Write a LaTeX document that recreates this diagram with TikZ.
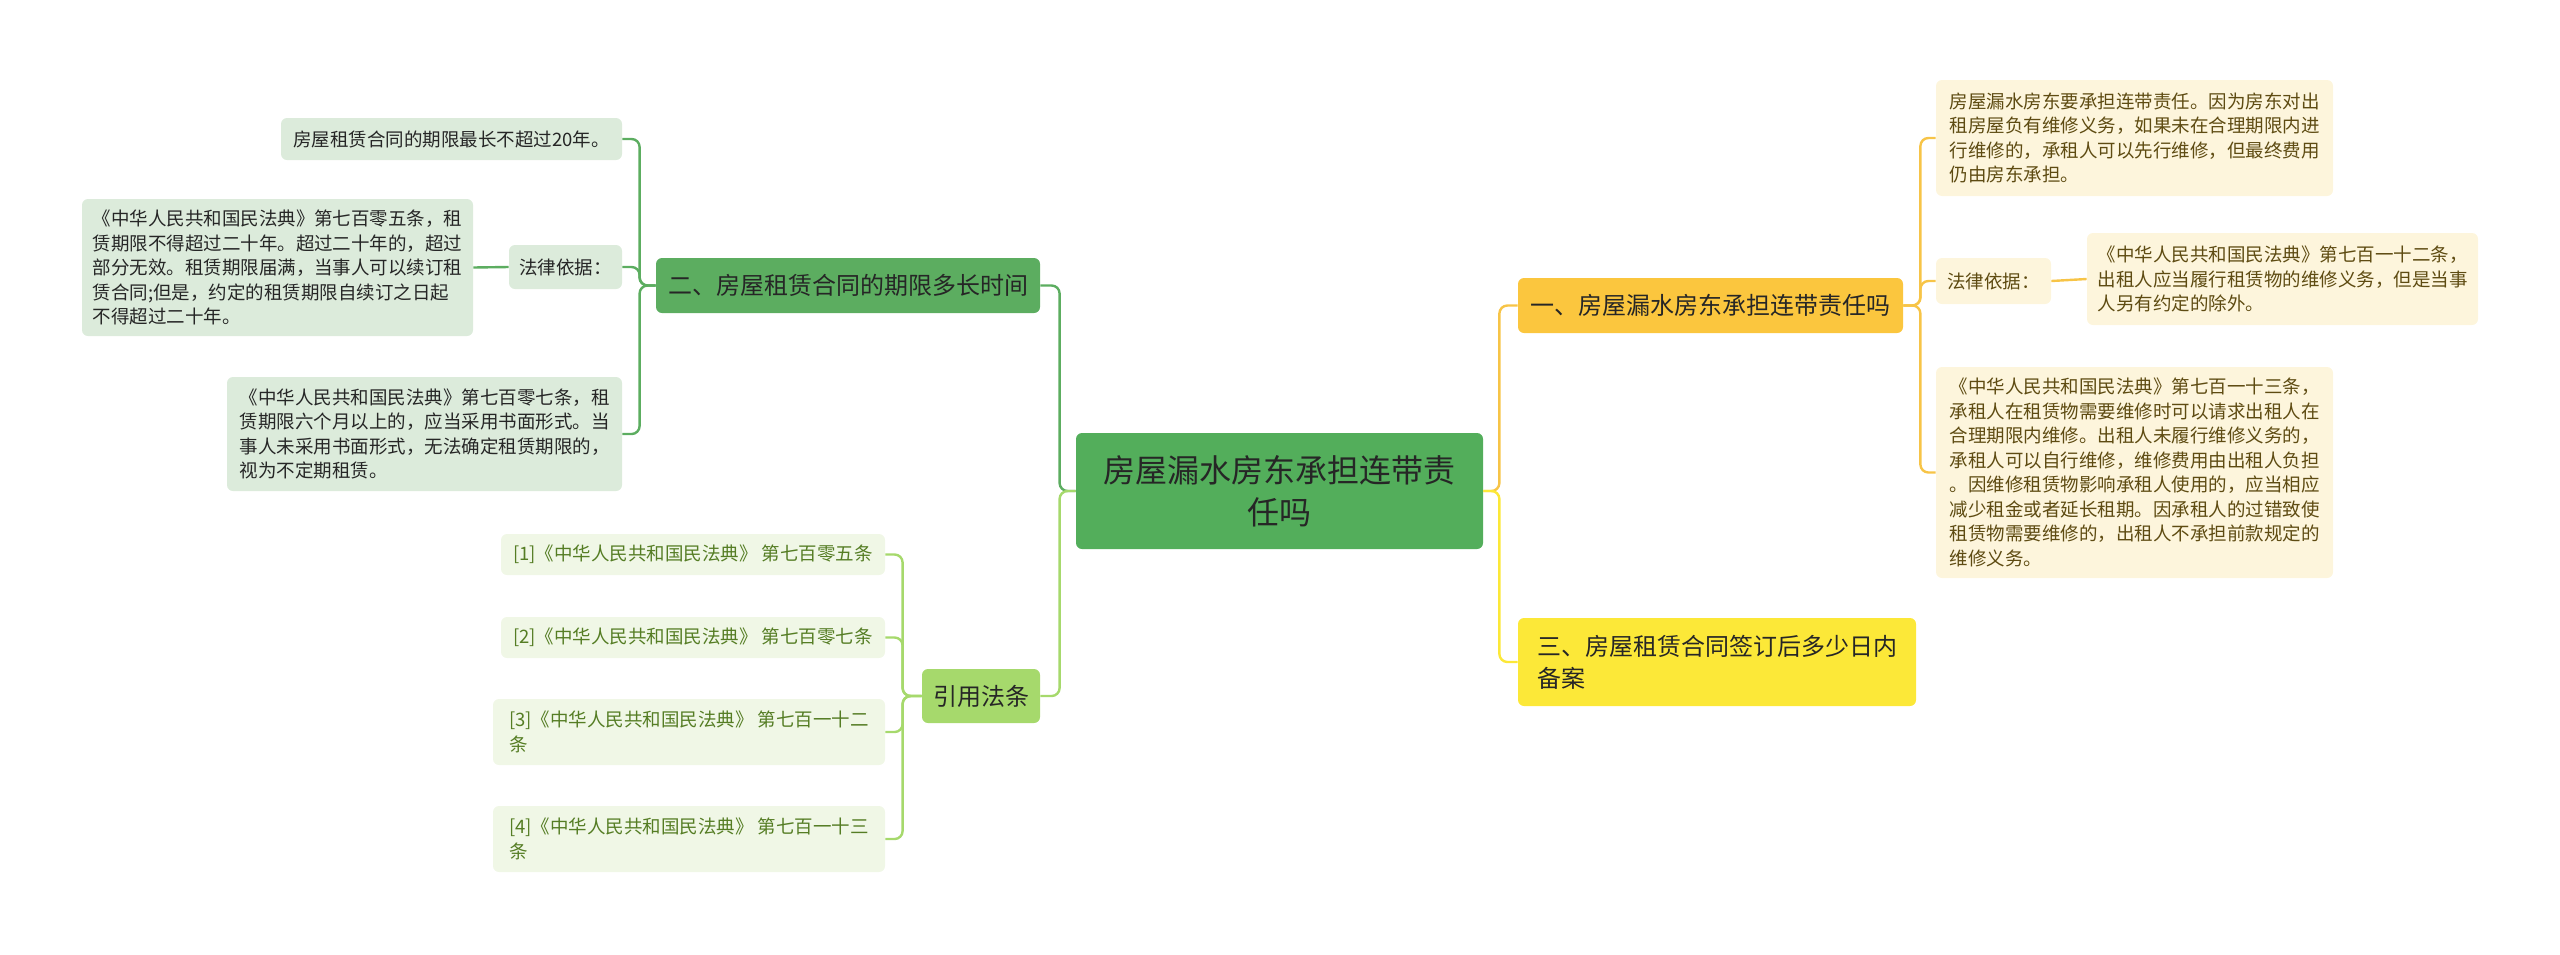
\documentclass[tikz,border=0pt]{standalone}
\usepackage{fontspec}
\setmainfont{Noto Sans CJK SC}

\definecolor{rootgreen}{HTML}{53AE5B}
\definecolor{maingreen}{HTML}{5CAD60}
\definecolor{leafgreen}{HTML}{DCEBDB}
\definecolor{limegreen}{HTML}{A6D96C}
\definecolor{citefill}{HTML}{F0F7E6}
\definecolor{citetext}{HTML}{557D24}
\definecolor{gold}{HTML}{FBC63E}
\definecolor{goldline}{HTML}{F7C447}
\definecolor{lemon}{HTML}{FCE838}
\definecolor{cream}{HTML}{FDF5DC}
\definecolor{browntext}{HTML}{5E4B12}
\definecolor{darktext}{HTML}{262626}

\begin{document}
\begin{tikzpicture}[
    x=0.5pt, y=-0.5pt,
    box/.style={rectangle, rounded corners=3pt, inner sep=0pt, align=left},
    rootbox/.style={box, fill=rootgreen, text=darktext, align=center,
        font=\fontsize{16}{21}\selectfont},
    topic/.style={box, text=darktext, font=\fontsize{12}{16}\selectfont},
    leaf/.style={box, fill=leafgreen, text=darktext, font=\fontsize{9.25}{12.25}\selectfont},
    cite/.style={box, fill=citefill, text=citetext, font=\fontsize{9.25}{12.25}\selectfont},
    note/.style={box, fill=cream, text=browntext, font=\fontsize{9.25}{12.25}\selectfont},
    link/.style={line width=1.2pt, rounded corners=4pt}
]
    \useasboundingbox (0,0) rectangle (2560,954);

    % Centre
    \node[rootbox, minimum width=203.5pt, minimum height=58pt] (root) at (1279.5,491)
        {房屋漏水房东承担连带责\\任吗};

    % Left topics
    \node[topic, fill=maingreen, minimum width=192pt, minimum height=27.5pt] (term) at (848,285.5)
        {二、房屋租赁合同的期限多长时间};
    \node[topic, fill=limegreen, minimum width=59pt, minimum height=27pt] (laws) at (981,696)
        {引用法条};

    % Right topics
    \node[topic, fill=gold, minimum width=192.5pt, minimum height=27.5pt] (duty) at (1710.5,305.5)
        {一、房屋漏水房东承担连带责任吗};
    \node[topic, fill=lemon, minimum width=199pt, minimum height=44pt] (filing) at (1717,662)
        {三、房屋租赁合同签订后多少日内\\备案};

    % Term leaves
    \node[leaf, minimum width=170.5pt, minimum height=21pt] (max) at (451.5,139)
        {房屋租赁合同的期限最长不超过20年。};
    \node[leaf, minimum width=56.5pt, minimum height=22pt] (basisL) at (565.5,267)
        {法律依据：};
    \node[leaf, minimum width=195.5pt, minimum height=68.5pt] (art705) at (277.5,267.5)
        {《中华人民共和国民法典》第七百零五条，租\\
         赁期限不得超过二十年。超过二十年的，超过\\
         部分无效。租赁期限届满，当事人可以续订租\\
         赁合同;但是，约定的租赁期限自续订之日起\\
         不得超过二十年。};
    \node[leaf, minimum width=197.5pt, minimum height=57pt] (art707) at (424.5,434)
        {《中华人民共和国民法典》第七百零七条，租\\
         赁期限六个月以上的，应当采用书面形式。当\\
         事人未采用书面形式，无法确定租赁期限的，\\
         视为不定期租赁。};

    % Cited laws
    \node[cite, minimum width=192pt, minimum height=20.5pt] (c1) at (693,554.5)
        {[1]《中华人民共和国民法典》 第七百零五条};
    \node[cite, minimum width=192pt, minimum height=20.5pt] (c2) at (693,637.5)
        {[2]《中华人民共和国民法典》 第七百零七条};
    \node[cite, minimum width=196pt, minimum height=33pt] (c3) at (689,732)
        {[3]《中华人民共和国民法典》 第七百一十二\\条};
    \node[cite, minimum width=196pt, minimum height=33pt] (c4) at (689,839)
        {[4]《中华人民共和国民法典》 第七百一十三\\条};

    % Duty leaves
    \node[note, minimum width=198.5pt, minimum height=58pt] (why) at (2134.5,138)
        {房屋漏水房东要承担连带责任。因为房东对出\\
         租房屋负有维修义务，如果未在合理期限内进\\
         行维修的，承租人可以先行维修，但最终费用\\
         仍由房东承担。};
    \node[note, minimum width=57.5pt, minimum height=23pt] (basisR) at (1993.5,281)
        {法律依据：};
    \node[note, minimum width=195.5pt, minimum height=46pt] (art712) at (2282.5,279)
        {《中华人民共和国民法典》第七百一十二条，\\
         出租人应当履行租赁物的维修义务，但是当事\\
         人另有约定的除外。};
    \node[note, minimum width=198.5pt, minimum height=105.5pt] (art713) at (2134.5,472.5)
        {《中华人民共和国民法典》第七百一十三条，\\
         承租人在租赁物需要维修时可以请求出租人在\\
         合理期限内维修。出租人未履行维修义务的，\\
         承租人可以自行维修，维修费用由出租人负担\\
         。因维修租赁物影响承租人使用的，应当相应\\
         减少租金或者延长租期。因承租人的过错致使\\
         租赁物需要维修的，出租人不承担前款规定的\\
         维修义务。};

    % Centre to topics
    \draw[link, maingreen] (root.west) -- ++(-16,0) |- (term.east);
    \draw[link, limegreen] (root.west) -- ++(-16,0) |- (laws.east);
    \draw[link, goldline] (root.east) -- ++(16,0) |- (duty.west);
    \draw[link, lemon] (root.east) -- ++(16,0) |- (filing.west);

    % Term branch
    \foreach \n in {max, basisL, art707}
        \draw[link, maingreen] (term.west) -- ++(-16,0) |- (\n.east);
    \draw[link, maingreen] (basisL.west) -- (art705.east);

    % Cited laws branch
    \foreach \n in {c1, c2, c3, c4}
        \draw[link, limegreen] (laws.west) -- ++(-19,0) |- (\n.east);

    % Duty branch
    \foreach \n in {why, basisR, art713}
        \draw[link, goldline] (duty.east) -- ++(17,0) |- (\n.west);
    \draw[link, goldline] (basisR.east) -- (art712.west);
\end{tikzpicture}
\end{document}
